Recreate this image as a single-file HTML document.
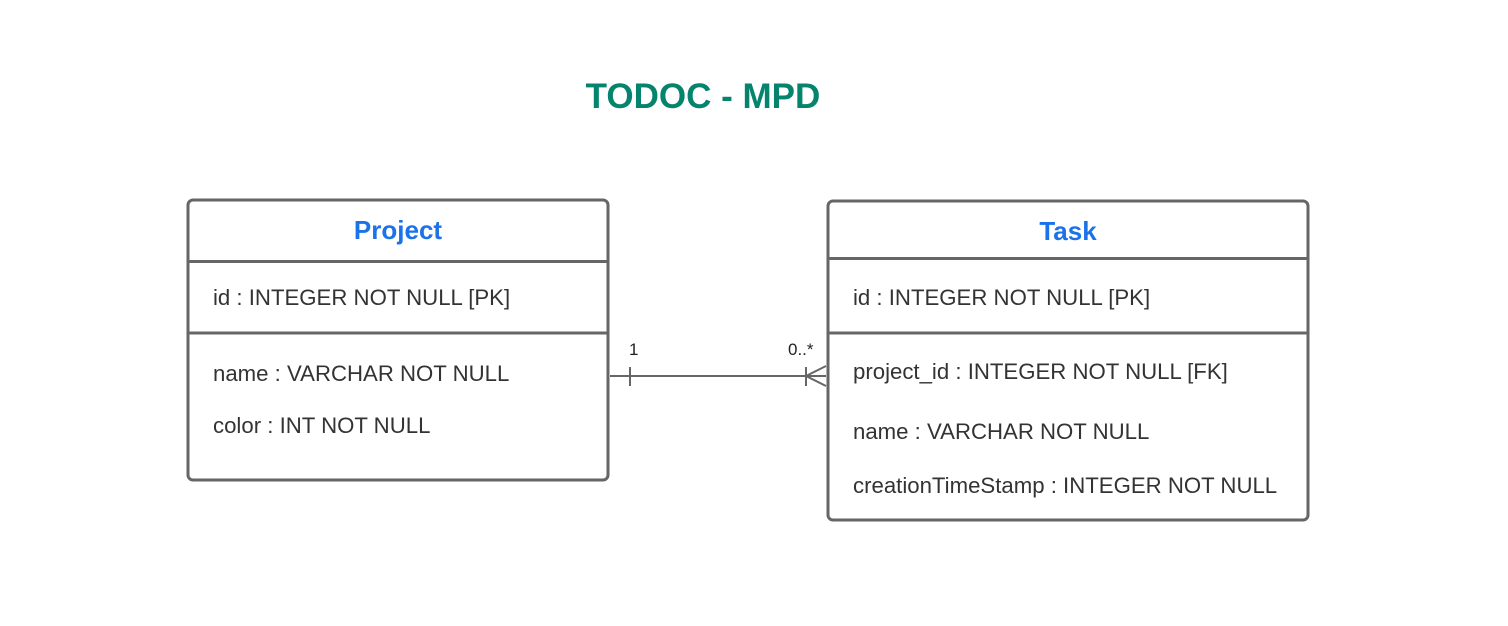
<!DOCTYPE html>
<html><head><style>body{margin:0;background:#fff}</style></head><body>
<svg width="1508" height="621" xmlns="http://www.w3.org/2000/svg" font-family="Liberation Sans, Arial, sans-serif">
<rect width="1508" height="621" fill="#fff"/>
<text x="703" y="108" text-anchor="middle" font-size="35" font-weight="bold" fill="#04836d">TODOC - MPD</text>
<g fill="none" stroke="#666" stroke-width="3">
<rect x="188" y="200" width="420" height="280" rx="5"/>
<line x1="188" y1="261.5" x2="608" y2="261.5"/>
<line x1="188" y1="333" x2="608" y2="333"/>
<rect x="828" y="201" width="480" height="319" rx="5"/>
<line x1="828" y1="258.5" x2="1308" y2="258.5"/>
<line x1="828" y1="333" x2="1308" y2="333"/>
</g>
<g stroke="#666" stroke-width="2" fill="none">
<line x1="610" y1="376" x2="826" y2="376"/>
<line x1="630" y1="367" x2="630" y2="386"/>
<line x1="806" y1="367" x2="806" y2="386"/>
<line x1="806" y1="376" x2="826" y2="366"/>
<line x1="806" y1="376" x2="826" y2="386"/>
</g>
<text x="629" y="355" font-size="17" fill="#222">1</text>
<text x="788" y="355" font-size="17" fill="#222">0..*</text>
<g font-size="26" font-weight="bold" fill="#1a73e8" text-anchor="middle">
<text x="398" y="239">Project</text>
<text x="1068" y="240">Task</text>
</g>
<g font-size="22.2" fill="#333">
<text x="213" y="305">id : INTEGER NOT NULL [PK]</text>
<text x="213" y="381">name : VARCHAR NOT NULL</text>
<text x="213" y="433">color : INT NOT NULL</text>
<text x="853" y="305">id : INTEGER NOT NULL [PK]</text>
<text x="853" y="379">project_id : INTEGER NOT NULL [FK]</text>
<text x="853" y="439">name : VARCHAR NOT NULL</text>
<text x="853" y="493">creationTimeStamp : INTEGER NOT NULL</text>
</g>
</svg>
</body></html>
